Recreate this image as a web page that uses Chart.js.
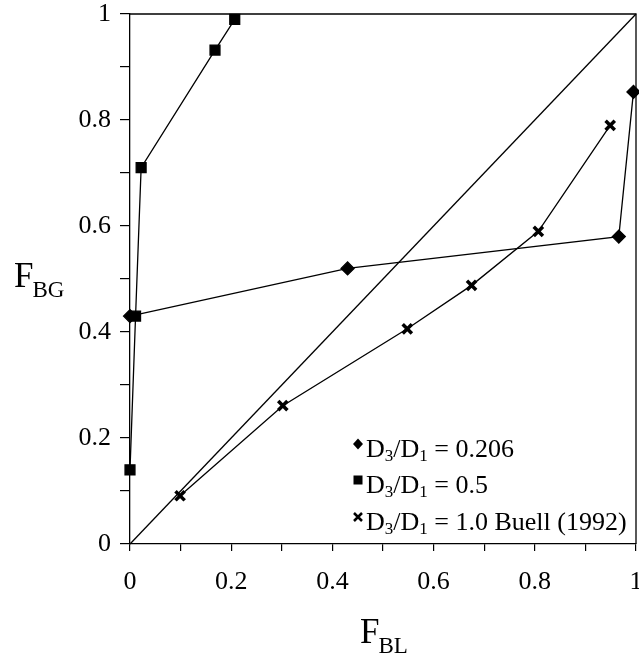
<!DOCTYPE html>
<html>
<head>
<meta charset="utf-8">
<script src="https://cdn.jsdelivr.net/npm/chart.js@4/dist/chart.umd.min.js"></script>
<style>
  html, body { margin: 0; padding: 0; background: #fff; }
  #wrap { width: 639px; height: 655px; }
</style>
</head>
<body>
<div id="wrap"><canvas id="grafiek" width="639" height="655"></canvas></div>
<script>
// data
const fbl_206 = [0, 0.43, 0.966, 0.995];
const fbg_206 = [0.43, 0.52, 0.58, 0.853];

const fbl_05 = [0, 0.011, 0.022, 0.168, 0.207];
const fbg_05 = [0.14, 0.43, 0.71, 0.932, 0.99];

const fbl_buell = [0.099, 0.302, 0.548, 0.675, 0.807, 0.949];
const fbg_buell = [0.091, 0.261, 0.406, 0.488, 0.59, 0.79];

const diag_x = [0, 1];
const diag_y = [0, 1];

const legendLabels = ['0.206', '0.5', '1.0 Buell (1992)'];

const pts = (xs, ys) => xs.map((x, i) => ({ x: x, y: ys[i] }));
const serif = '"Liberation Serif", "Times New Roman", serif';

function tickLabel(v) {
    const n = Math.round(v * 10);
    if (n % 2 !== 0) return '';
    if (n === 0) return '0';
    if (n === 10) return '1';
    return (n / 10).toFixed(1);
}

// kader, as-titels en legenda
const extras = {
    id: 'extras',
    afterDraw(chart) {
        const ctx = chart.ctx;
        const a = chart.chartArea;
        ctx.save();
        ctx.strokeStyle = '#000';
        ctx.lineWidth = 1.3;
        ctx.beginPath();
        ctx.moveTo(a.left, a.top);
        ctx.lineTo(a.right, a.top);
        ctx.lineTo(a.right, a.bottom);
        ctx.stroke();

        ctx.fillStyle = '#000';
        ctx.textBaseline = 'alphabetic';
        ctx.textAlign = 'left';

        // F_BL
        ctx.font = '35px ' + serif;
        ctx.fillText('F', 360, 643);
        let w = ctx.measureText('F').width;
        ctx.font = '23px ' + serif;
        ctx.fillText('BL', 360 + w - 1, 653);

        // F_BG
        ctx.font = '35px ' + serif;
        ctx.fillText('F', 14, 287);
        w = ctx.measureText('F').width;
        ctx.font = '23px ' + serif;
        ctx.fillText('BG', 14 + w - 1, 297);

        // legenda
        const rows = [457, 493, 530];
        rows.forEach((base, i) => {
            const mx = 358, my = base - 13;
            ctx.fillStyle = '#000';
            ctx.strokeStyle = '#000';
            if (i === 0) {
                ctx.beginPath();
                ctx.moveTo(mx, my - 5.5); ctx.lineTo(mx + 5, my);
                ctx.lineTo(mx, my + 5.5); ctx.lineTo(mx - 5, my);
                ctx.closePath(); ctx.fill();
            } else if (i === 1) {
                ctx.fillRect(mx - 4.5, my - 4.5, 9, 9);
            } else {
                ctx.lineWidth = 2.5;
                ctx.beginPath();
                ctx.moveTo(mx - 4, my - 4); ctx.lineTo(mx + 4, my + 4);
                ctx.moveTo(mx + 4, my - 4); ctx.lineTo(mx - 4, my + 4);
                ctx.stroke();
            }
            let x = 366;
            const big = '26px ' + serif, small = '17px ' + serif;
            const parts = [['D', big, 0], ['3', small, 4], ['/D', big, 0], ['1', small, 4], [' = ' + legendLabels[i], big, 0]];
            parts.forEach(p => {
                ctx.font = p[1];
                ctx.fillText(p[0], x, base + p[2]);
                x += ctx.measureText(p[0]).width;
            });
        });
        ctx.restore();
    }
};

const lijn = {
    showLine: true,
    borderColor: '#000',
    backgroundColor: '#000',
    borderWidth: 1.3,
    pointBorderColor: '#000',
    pointBackgroundColor: '#000',
    clip: false
};

new Chart(document.getElementById('grafiek').getContext('2d'), {
    type: 'scatter',
    data: {
        datasets: [
            Object.assign({}, lijn, { label: 'diag', data: pts(diag_x, diag_y), pointRadius: 0 }),
            Object.assign({}, lijn, { label: 'D3/D1 = 0.206', data: pts(fbl_206, fbg_206), pointStyle: 'rectRot', pointRadius: 6.5 }),
            Object.assign({}, lijn, { label: 'D3/D1 = 0.5', data: pts(fbl_05, fbg_05), pointStyle: 'rect', pointRadius: 7 }),
            Object.assign({}, lijn, { label: 'D3/D1 = 1.0 Buell (1992)', data: pts(fbl_buell, fbg_buell), pointStyle: 'crossRot', pointRadius: 6.5, pointBorderWidth: 3.5 })
        ]
    },
    options: {
        responsive: false,
        animation: false,
        layout: { autoPadding: false, padding: { left: 0, top: 14, right: 3, bottom: 0 } },
        plugins: { legend: { display: false }, tooltip: { enabled: false } },
        scales: {
            x: {
                type: 'linear', min: 0, max: 1,
                afterFit: s => { s.height = 111; s.paddingLeft = 0; s.paddingRight = 0; },
                border: { display: true, color: '#000', width: 1.3 },
                grid: { drawOnChartArea: false, drawTicks: true, tickLength: 7, color: '#000', lineWidth: 1.2 },
                ticks: { stepSize: 0.1, autoSkip: false, maxRotation: 0, padding: 16, color: '#000',
                    font: { family: serif, size: 26 }, callback: tickLabel }
            },
            y: {
                type: 'linear', min: 0, max: 1,
                afterFit: s => { s.width = 130; s.paddingTop = 0; s.paddingBottom = 0; },
                border: { display: true, color: '#000', width: 1.3 },
                grid: { drawOnChartArea: false, drawTicks: true, tickLength: 10, color: '#000', lineWidth: 1.2 },
                ticks: { stepSize: 0.1, autoSkip: false, padding: 9, color: '#000',
                    font: { family: serif, size: 26 }, callback: tickLabel }
            }
        }
    },
    plugins: [extras]
});
</script>
</body>
</html>
